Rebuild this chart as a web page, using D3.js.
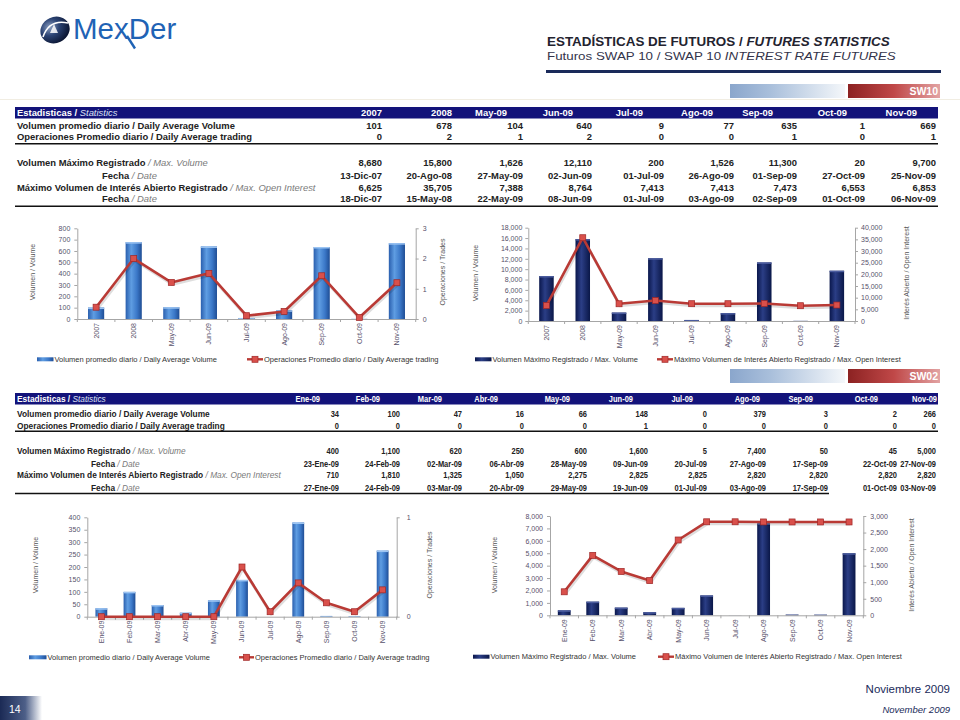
<!DOCTYPE html>
<html>
<head>
<meta charset="utf-8">
<script src="https://cdn.jsdelivr.net/npm/d3@7"></script>
<style>
  body { margin: 0; background: #fff; }
  svg { display: block; font-family: "Liberation Sans", Arial, sans-serif; }
</style>
</head>
<body>
<svg id="page" width="960" height="720"></svg>
<script>
// ---- data: SW10 ----
var sw10Months = ["2007", "2008", "May-09", "Jun-09", "Jul-09", "Ago-09", "Sep-09", "Oct-09", "Nov-09"];
var sw10AvgVolume = [101, 678, 104, 640, 9, 77, 635, 1, 669];
var sw10AvgTrades = [0, 2, 1, 2, 0, 0, 1, 0, 1];
var sw10TradesPlot = [0.39, 2.0, 1.21, 1.51, 0.11, 0.25, 1.43, 0.05, 1.2];
var sw10MaxVolume = [8680, 15800, 1626, 12110, 200, 1526, 11300, 20, 9700];
var sw10MaxVolumeDate = ["13-Dic-07", "20-Ago-08", "27-May-09", "02-Jun-09", "01-Jul-09", "26-Ago-09", "01-Sep-09", "27-Oct-09", "25-Nov-09"];
var sw10MaxOI = [6625, 35705, 7388, 8764, 7413, 7413, 7473, 6553, 6853];
var sw10MaxOIDate = ["18-Dic-07", "15-May-08", "22-May-09", "08-Jun-09", "01-Jul-09", "03-Ago-09", "02-Sep-09", "01-Oct-09", "06-Nov-09"];

// ---- data: SW02 ----
var sw02Months = ["Ene-09", "Feb-09", "Mar-09", "Abr-09", "May-09", "Jun-09", "Jul-09", "Ago-09", "Sep-09", "Oct-09", "Nov-09"];
var sw02AvgVolume = [34, 100, 47, 16, 66, 148, 0, 379, 3, 2, 266];
var sw02AvgTrades = [0, 0, 0, 0, 0, 1, 0, 0, 0, 0, 0];
var sw02TradesPlot = [0, 0, 0, 0, 0, 0.5, 0.05, 0.34, 0.14, 0.05, 0.27];
var sw02MaxVolume = [400, 1100, 620, 250, 600, 1600, 5, 7400, 50, 45, 5000];
var sw02MaxVolumeDate = ["23-Ene-09", "24-Feb-09", "02-Mar-09", "06-Abr-09", "28-May-09", "09-Jun-09", "20-Jul-09", "27-Ago-09", "17-Sep-09", "22-Oct-09", "27-Nov-09"];
var sw02MaxOI = [710, 1810, 1325, 1050, 2275, 2825, 2825, 2820, 2820, 2820, 2820];
var sw02MaxOIDate = ["27-Ene-09", "24-Feb-09", "03-Mar-09", "20-Abr-09", "29-May-09", "19-Jun-09", "01-Jul-09", "03-Ago-09", "17-Sep-09", "01-Oct-09", "03-Nov-09"];

// ---- tick labels ----
var c1LeftTicks = [0, 100, 200, 300, 400, 500, 600, 700, 800];
var c1RightTicks = [0, 1, 2, 3];
var c2LeftTicks = [0, 2000, 4000, 6000, 8000, 10000, 12000, 14000, 16000, 18000];
var c2RightTicks = [0, 5000, 10000, 15000, 20000, 25000, 30000, 35000, 40000];
var c3LeftTicks = [0, 50, 100, 150, 200, 250, 300, 350, 400];
var c3RightTicks = [0, 1];
var c4LeftTicks = [0, 1000, 2000, 3000, 4000, 5000, 6000, 7000, 8000];
var c4RightTicks = [0, 500, 1000, 1500, 2000, 2500, 3000];

// ---- layout of the table columns ----
var sw10HeadRight = [382, 452, 507, 573, 643, 713, 773, 847, 917];
var sw10ValRight = [382, 452, 523, 592, 664, 734, 797, 865, 936];
var sw02HeadRight = [320, 380, 442, 498, 570, 633, 693, 760, 813, 878, 937];
var sw02ValRight = [339, 400, 462, 524, 587, 648, 707, 766, 828, 897, 936];

const NAVY = "#13137a";
const RED = "#b93a35";
const fmt = d3.format(",");

const svg = d3.select("#page");
const defs = svg.append("defs");

function hGrad(id, stops) {
  const lg = defs.append("linearGradient").attr("id", id)
    .attr("x1", 0).attr("x2", 1).attr("y1", 0).attr("y2", 0);
  stops.forEach(s => lg.append("stop").attr("offset", s[0]).attr("stop-color", s[1]));
}
hGrad("gBlue", [[0, "#2a5fae"], [0.35, "#5f9de2"], [0.7, "#3b78c8"], [1, "#1f4d94"]]);
hGrad("gNavy", [[0, "#0a174c"], [0.4, "#2b3e86"], [1, "#0a1748"]]);
hGrad("gBanBlue", [[0, "#8aa6cc"], [0.35, "#a9bfdb"], [1, "#f4f7fa"]]);
hGrad("gBanRed", [[0, "#8c2222"], [0.5, "#c04848"], [1, "#e2a3a3"]]);
hGrad("gFoot", [[0, "#1b2a55"], [0.6, "#4d5f88"], [1, "#ffffff"]]);
const rg = defs.append("radialGradient").attr("id", "gSphere")
  .attr("cx", "0.38").attr("cy", "0.32").attr("r", "0.7");
rg.append("stop").attr("offset", 0).attr("stop-color", "#8da1c4");
rg.append("stop").attr("offset", 0.45).attr("stop-color", "#2c4474");
rg.append("stop").attr("offset", 1).attr("stop-color", "#0a1430");

// squeeze a text horizontally so it fills a given width
function fitWidth(t, x, y, target) {
  const w = t.node().getComputedTextLength();
  t.attr("x", 0).attr("y", 0).attr("transform", `translate(${x},${y}) scale(${target / w},1)`);
}

// ---- header: logo and titles ----
svg.append("ellipse").attr("cx", 55).attr("cy", 30).attr("rx", 15).attr("ry", 13)
  .attr("transform", "rotate(-25,55,30)").attr("fill", "url(#gSphere)");
svg.append("path").attr("d", "M43,37 Q49,19 68,23").attr("fill", "none")
  .attr("stroke", "#fff").attr("stroke-width", 1.6);
svg.append("path").attr("d", "M50,33 L54,24 L58,33 Z").attr("fill", "#fff").attr("opacity", 0.85);
svg.append("text").attr("x", 73).attr("y", 38.5).attr("font-size", 29.5)
  .attr("fill", "#1f63b5").text("MexDer");
svg.append("line").attr("x1", 127).attr("y1", 36).attr("x2", 135).attr("y2", 48.5)
  .attr("stroke", "#1f63b5").attr("stroke-width", 2.4);

const t1 = svg.append("text").attr("font-size", 12).attr("font-weight", "bold").attr("fill", "#23232f");
t1.append("tspan").text("ESTADÍSTICAS DE FUTUROS / ");
t1.append("tspan").attr("font-style", "italic").text("FUTURES STATISTICS");
fitWidth(t1, 547, 45.5, 343);
const t2 = svg.append("text").attr("font-size", 11).attr("fill", "#33334a");
t2.append("tspan").text("Futuros SWAP 10 / SWAP 10 ");
t2.append("tspan").attr("font-style", "italic").text("INTEREST RATE FUTURES");
fitWidth(t2, 547, 60, 349);
svg.append("line").attr("x1", 546).attr("x2", 941).attr("y1", 71.5).attr("y2", 71.5)
  .attr("stroke", "#1a2a5a").attr("stroke-width", 3);
svg.append("line").attr("x1", 0).attr("x2", 960).attr("y1", 99.5).attr("y2", 99.5)
  .attr("stroke", "#f1ede2").attr("stroke-width", 1);

function drawBanner(y, label) {
  svg.append("rect").attr("x", 730).attr("y", y).attr("width", 115).attr("height", 14).attr("fill", "url(#gBanBlue)");
  svg.append("rect").attr("x", 848).attr("y", y).attr("width", 92).attr("height", 14).attr("fill", "url(#gBanRed)");
  svg.append("text").attr("x", 938).attr("y", y + 11).attr("text-anchor", "end")
    .attr("font-size", 10.5).attr("font-weight", "bold").attr("fill", "#fff").text(label);
}
drawBanner(84, "SW10");
drawBanner(369, "SW02");

// ---- statistics tables ----
function drawTable(cfg) {
  const g = svg.append("g").attr("font-size", cfg.fontSize);
  // horizontal squeeze of the narrow font, measured on the first row label
  const probe = g.append("text").attr("font-weight", "bold").text("Volumen promedio diario / Daily Average Volume");
  const sx = cfg.labelWidth / probe.node().getComputedTextLength();
  probe.remove();
  const put = (x, y, anchor, k) => g.append("text")
    .attr("transform", `translate(${x},${y}) scale(${sx * (k || 1)},1)`).attr("text-anchor", anchor);

  g.append("rect").attr("x", 15).attr("y", cfg.headY).attr("width", 923).attr("height", 11.5).attr("fill", NAVY);
  const h = put(17, cfg.headY + 9, "start").attr("fill", "#fff");
  h.append("tspan").attr("font-weight", "bold").text("Estadisticas / ");
  h.append("tspan").attr("font-style", "italic").attr("fill", "#dfe3f5").text("Statistics");
  cfg.cols.forEach((c, i) => {
    put(cfg.headRight[i], cfg.headY + 9, "end", cfg.valSqueeze).attr("font-weight", "bold").attr("fill", "#fff").text(c);
  });
  const rows = [
    { x: 17, bold: "Volumen promedio diario / Daily Average Volume", ital: "", vals: cfg.avgVol.map(fmt) },
    { x: 17, bold: "Operaciones Promedio diario / Daily Average trading", ital: "", vals: cfg.avgTr.map(fmt) },
    { x: 17, bold: "Volumen Máximo Registrado", ital: " / Max. Volume", vals: cfg.maxVol.map(fmt) },
    { x: cfg.fechaX, bold: "Fecha", ital: " / Date", vals: cfg.maxVolDate },
    { x: 17, bold: "Máximo Volumen de Interés Abierto Registrado", ital: " / Max. Open Interest", vals: cfg.maxOI.map(fmt) },
    { x: cfg.fechaX, bold: "Fecha", ital: " / Date", vals: cfg.maxOIDate }
  ];
  rows.forEach((r, k) => {
    const y = cfg.rowY[k];
    const t = put(r.x, y, "start").attr("fill", "#222");
    t.append("tspan").attr("font-weight", "bold").text(r.bold);
    if (r.ital) t.append("tspan").attr("font-style", "italic").attr("fill", "#7a7a7a").text(r.ital);
    r.vals.forEach((v, i) => {
      put(cfg.valRight[i], y, "end", cfg.valSqueeze).attr("font-weight", "bold").attr("fill", "#222").text(v);
    });
  });
  g.append("line").attr("x1", 15).attr("x2", 938).attr("y1", cfg.line1).attr("y2", cfg.line1)
    .attr("stroke", "#111").attr("stroke-width", 1.5);
  g.append("line").attr("x1", 15).attr("x2", cfg.line2End).attr("y1", cfg.line2).attr("y2", cfg.line2)
    .attr("stroke", "#111").attr("stroke-width", 1.5);
}

drawTable({
  cols: sw10Months, headRight: sw10HeadRight, valRight: sw10ValRight, headY: 107, fechaX: 102,
  fontSize: 9.2, labelWidth: 218, valSqueeze: 1,
  avgVol: sw10AvgVolume, avgTr: sw10AvgTrades, maxVol: sw10MaxVolume, maxVolDate: sw10MaxVolumeDate,
  maxOI: sw10MaxOI, maxOIDate: sw10MaxOIDate,
  rowY: [129, 140.2, 166.2, 179.2, 190.7, 202.2], line1: 143.7, line2: 206.3, line2End: 938
});
drawTable({
  cols: sw02Months, headRight: sw02HeadRight, valRight: sw02ValRight, headY: 393, fechaX: 91,
  fontSize: 9, labelWidth: 193, valSqueeze: 0.9,
  avgVol: sw02AvgVolume, avgTr: sw02AvgTrades, maxVol: sw02MaxVolume, maxVolDate: sw02MaxVolumeDate,
  maxOI: sw02MaxOI, maxOIDate: sw02MaxOIDate,
  rowY: [416.5, 428.9, 454.2, 466.5, 478.2, 490.5], line1: 431.3, line2: 493.6, line2End: 829
});

// ---- combo charts ----
function styleAxis(sel) {
  sel.attr("font-family", null).attr("font-size", 7);
  sel.select(".domain").attr("stroke", "#a6a6a6");
  sel.selectAll(".tick line").attr("stroke", "#a6a6a6");
  sel.selectAll(".tick text").attr("fill", "#57506a");
}

function drawChart(c) {
  const g = svg.append("g");
  const x = d3.scaleBand().domain(c.cats).range([c.left, c.right]).padding(0);
  const yL = d3.scaleLinear().domain([0, d3.max(c.leftTicks)]).range([c.bottom, c.top]);
  const yR = d3.scaleLinear().domain([0, d3.max(c.rightTicks)]).range([c.bottom, c.top]);
  const bw = x.bandwidth();
  const barW = bw * c.barFrac;
  const cx = d => x(d) + bw / 2;

  // bars
  g.selectAll(".bar").data(c.cats).join("rect")
    .attr("x", d => cx(d) - barW / 2)
    .attr("y", (d, i) => yL(c.bars[i]))
    .attr("width", barW)
    .attr("height", (d, i) => c.bottom - yL(c.bars[i]))
    .attr("fill", c.barFill);
  g.selectAll(".cap").data(c.cats).join("rect")
    .attr("x", d => cx(d) - barW / 2)
    .attr("y", (d, i) => yL(c.bars[i]))
    .attr("width", barW)
    .attr("height", (d, i) => Math.min(1.5, c.bottom - yL(c.bars[i])))
    .attr("fill", c.capFill);

  // axes
  g.append("g").attr("transform", `translate(${c.left},0)`)
    .call(d3.axisLeft(yL).tickValues(c.leftTicks).tickSize(3).tickSizeOuter(0).tickPadding(c.padL).tickFormat(c.fmtL))
    .call(styleAxis);
  g.append("g").attr("transform", `translate(${c.right},0)`)
    .call(d3.axisRight(yR).tickValues(c.rightTicks).tickSize(3).tickSizeOuter(0).tickPadding(c.padR).tickFormat(c.fmtR))
    .call(styleAxis);
  const xa = g.append("g").attr("transform", `translate(0,${c.bottom})`)
    .call(d3.axisBottom(x).tickSize(0).tickSizeOuter(0))
    .call(styleAxis);
  xa.selectAll(".tick text")
    .attr("transform", "rotate(-90)").attr("x", -4).attr("y", 0).attr("dy", "0.35em")
    .attr("text-anchor", "end");
  g.selectAll(".bt").data(d3.range(c.cats.length + 1)).join("line")
    .attr("x1", i => c.left + i * bw).attr("x2", i => c.left + i * bw)
    .attr("y1", c.bottom).attr("y2", c.bottom + 3).attr("stroke", "#a6a6a6");

  // line series (right axis)
  const line = d3.line().x((d, i) => cx(c.cats[i])).y(d => yR(d));
  g.append("path").datum(c.line).attr("d", line).attr("fill", "none")
    .attr("stroke", "rgba(0,0,0,0.13)").attr("stroke-width", 3).attr("transform", "translate(1,2)");
  g.append("path").datum(c.line).attr("d", line).attr("fill", "none")
    .attr("stroke", RED).attr("stroke-width", 2.6).attr("stroke-linejoin", "round");
  g.selectAll(".mk").data(c.line).join("rect")
    .attr("x", (d, i) => cx(c.cats[i]) - 3).attr("y", d => yR(d) - 3)
    .attr("width", 6).attr("height", 6)
    .attr("fill", "#d9504b").attr("stroke", "#9e2626").attr("stroke-width", 0.7);

  // axis titles
  g.append("text").attr("transform", `translate(${c.ltx},${c.titleY}) rotate(-90)`)
    .attr("text-anchor", "middle").attr("dy", "0.35em").attr("font-size", 7).attr("fill", "#555")
    .text(c.leftTitle);
  g.append("text").attr("transform", `translate(${c.rtx},${c.titleY}) rotate(-90)`)
    .attr("text-anchor", "middle").attr("dy", "0.35em").attr("font-size", 7).attr("fill", "#555")
    .text(c.rightTitle);

  // legend
  const ly = c.legendY;
  g.append("rect").attr("x", c.lg[0]).attr("y", ly - 2).attr("width", c.lg[1] - c.lg[0] - 1).attr("height", 4)
    .attr("fill", c.barFill);
  g.append("text").attr("x", c.lg[1]).attr("y", ly).attr("dy", "0.35em").attr("font-size", 7.5)
    .attr("fill", "#333").text(c.legendBar);
  g.append("line").attr("x1", c.lg[2]).attr("x2", c.lg[3]).attr("y1", ly).attr("y2", ly)
    .attr("stroke", RED).attr("stroke-width", 2.4);
  g.append("rect").attr("x", (c.lg[2] + c.lg[3]) / 2 - 3).attr("y", ly - 3).attr("width", 6).attr("height", 6)
    .attr("fill", "#d9504b").attr("stroke", "#9e2626").attr("stroke-width", 0.7);
  g.append("text").attr("x", c.lg[3] + 1).attr("y", ly).attr("dy", "0.35em").attr("font-size", 7.5)
    .attr("fill", "#333").text(c.legendLine);
}

const intFmt = d3.format("d");
drawChart({
  cats: sw10Months, bars: sw10AvgVolume, line: sw10TradesPlot,
  leftTicks: c1LeftTicks, rightTicks: c1RightTicks, fmtL: intFmt, fmtR: intFmt,
  left: 77.3, right: 415.7, top: 228.3, bottom: 319, barFrac: 0.43,
  barFill: "url(#gBlue)", capFill: "#9cc4f2", padL: 4, padR: 4,
  leftTitle: "Volumen / Volume", rightTitle: "Operaciones / Trades", ltx: 33, rtx: 443, titleY: 272,
  legendY: 359.3, lg: [37, 54.5, 247, 263],
  legendBar: "Volumen promedio diario / Daily Average Volume",
  legendLine: "Operaciones Promedio diario / Daily Average trading"
});
drawChart({
  cats: sw10Months, bars: sw10MaxVolume, line: sw10MaxOI,
  leftTicks: c2LeftTicks, rightTicks: c2RightTicks, fmtL: fmt, fmtR: fmt,
  left: 528.3, right: 855, top: 227.7, bottom: 321, barFrac: 0.4,
  barFill: "url(#gNavy)", capFill: "#4b5c9e", padL: 3, padR: 3,
  leftTitle: "Volumen / Volume", rightTitle: "Interés Abierto / Open Interest", ltx: 476, rtx: 907, titleY: 273,
  legendY: 359.3, lg: [475, 492.5, 657, 673],
  legendBar: "Volumen Máximo Registrado / Max. Volume",
  legendLine: "Máximo Volumen de Interés Abierto Registrado / Max. Open Interest"
});
drawChart({
  cats: sw02Months, bars: sw02AvgVolume, line: sw02TradesPlot,
  leftTicks: c3LeftTicks, rightTicks: c3RightTicks, fmtL: intFmt, fmtR: intFmt,
  left: 87.3, right: 396.7, top: 517.3, bottom: 616.7, barFrac: 0.42,
  barFill: "url(#gBlue)", capFill: "#9cc4f2", padL: 4, padR: 7,
  leftTitle: "Volumen / Volume", rightTitle: "Operaciones / Trades", ltx: 36, rtx: 430, titleY: 565,
  legendY: 657.3, lg: [29, 47.5, 239, 254],
  legendBar: "Volumen promedio diario / Daily Average Volume",
  legendLine: "Operaciones Promedio diario / Daily Average trading"
});
drawChart({
  cats: sw02Months, bars: sw02MaxVolume, line: sw02MaxOI,
  leftTicks: c4LeftTicks, rightTicks: c4RightTicks, fmtL: fmt, fmtR: fmt,
  left: 550, right: 863.3, top: 516, bottom: 615.3, barFrac: 0.45,
  barFill: "url(#gNavy)", capFill: "#4b5c9e", padL: 4, padR: 4,
  leftTitle: "Volumen / Volume", rightTitle: "Interés Abierto / Open Interest", ltx: 495, rtx: 912, titleY: 565,
  legendY: 656.7, lg: [473, 490.5, 658, 674],
  legendBar: "Volumen Máximo Registrado / Max. Volume",
  legendLine: "Máximo Volumen de Interés Abierto Registrado / Max. Open Interest"
});

// ---- footer ----
svg.append("rect").attr("x", 0).attr("y", 696).attr("width", 42).attr("height", 24).attr("fill", "url(#gFoot)");
svg.append("text").attr("x", 9).attr("y", 712.5).attr("font-size", 10.5).attr("fill", "#fff").text("14");
svg.append("text").attr("x", 950).attr("y", 693).attr("text-anchor", "end").attr("font-size", 11.5)
  .attr("fill", "#1a2a5a").text("Noviembre 2009");
svg.append("text").attr("x", 950).attr("y", 712.5).attr("text-anchor", "end").attr("font-size", 9.5)
  .attr("font-style", "italic").attr("fill", "#1a2a5a").text("November 2009");
</script>
</body>
</html>
